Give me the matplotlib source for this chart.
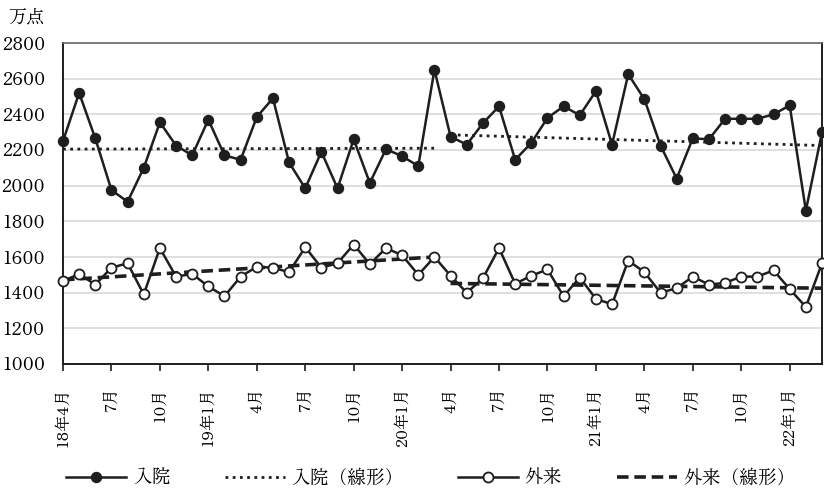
import numpy as np
import matplotlib
matplotlib.use("Agg")
import matplotlib.pyplot as plt
from matplotlib.lines import Line2D

plt.rcParams['font.family'] = ['Zen Old Mincho', 'Noto Sans CJK JP', 'DejaVu Sans']

# monthly points, 2018/4 - 2022/3 (万点)
inpatient = [2250, 2520, 2265, 1975, 1910, 2100, 2355, 2225, 2170, 2370, 2170, 2145,
             2385, 2490, 2130, 1985, 2190, 1985, 2260, 2015, 2205, 2165, 2110, 2650,
             2275, 2230, 2350, 2445, 2145, 2240, 2380, 2445, 2395, 2530, 2230, 2625,
             2485, 2225, 2040, 2265, 2260, 2375, 2375, 2375, 2400, 2450, 1860, 2300]
outpatient = [1465, 1505, 1445, 1540, 1565, 1390, 1650, 1490, 1505, 1435, 1380, 1490,
              1545, 1540, 1515, 1655, 1540, 1565, 1670, 1560, 1650, 1610, 1500, 1600,
              1495, 1400, 1480, 1650, 1450, 1495, 1530, 1380, 1485, 1365, 1335, 1580,
              1515, 1400, 1425, 1490, 1445, 1455, 1490, 1490, 1525, 1420, 1320, 1565]
# linear trend (start, end) for FY2018-19 and FY2020-21
inpatient_trend = [(2205, 2210), (2285, 2225)]
outpatient_trend = [(1472, 1600), (1452, 1425)]
tick_labels = ['18年4月', '7月', '10月', '19年1月', '4月', '7月', '10月', '20年1月',
               '4月', '7月', '10月', '21年1月', '4月', '7月', '10月', '22年1月']
split = 24

x = np.arange(len(inpatient))
ink = '#1e1e1e'
dots = (0, (1, 1.6))
dashes = (0, (3.2, 1.6))

fig = plt.figure(figsize=(8.24, 4.96), dpi=100)
ax = fig.add_axes([63 / 824, 1 - 364 / 496, (822 - 63) / 824, (364 - 43) / 496])

segments = [x[:split], x[split:]]
for seg, t_in, t_out in zip(segments, inpatient_trend, outpatient_trend):
    ends = [seg[0], seg[-1]]
    ax.plot(ends, t_in, color=ink, lw=2.0, ls=dots, zorder=2)
    ax.plot(ends, t_out, color=ink, lw=2.6, ls=dashes, zorder=2)

ax.plot(x, inpatient, color=ink, lw=1.8, marker='o', ms=7.2, mfc=ink, mec=ink,
        clip_on=False, zorder=3)
ax.plot(x, outpatient, color=ink, lw=1.8, marker='o', ms=7.2, mfc='white', mec=ink,
        mew=1.3, clip_on=False, zorder=3)

ax.set_xlim(0, len(x) - 1)
ax.set_ylim(1000, 2800)
ax.set_yticks(np.arange(1000, 2801, 200))
ax.yaxis.grid(True, color='#d9d9d9', lw=1.2)
ax.set_axisbelow(True)
ax.tick_params(axis='y', length=0, pad=13, labelsize=13)
ax.set_xticks(x[::3])
ax.set_xticklabels(tick_labels, rotation=90, fontsize=11.5)
ax.tick_params(axis='x', length=5, width=1.2, color=ink, pad=12)

for side in ('left', 'bottom', 'right'):
    ax.spines[side].set_color(ink)
    ax.spines[side].set_linewidth(1.4)
ax.spines['top'].set_color('#666666')
ax.spines['top'].set_linewidth(1.2)

fig.text(8 / 824, 1 - 17 / 496, '万点', fontsize=13, va='center', ha='left')

handles = [
    Line2D([], [], color=ink, lw=1.8, marker='o', ms=7.2, mfc=ink, mec=ink),
    Line2D([], [], color=ink, lw=2.0, ls=dots),
    Line2D([], [], color=ink, lw=1.8, marker='o', ms=7.2, mfc='white', mec=ink, mew=1.3),
    Line2D([], [], color=ink, lw=2.6, ls=dashes),
]
labels = ['入院', '入院（線形）', '外来', '外来（線形）']
fig.legend(handles, labels, loc='center', bbox_to_anchor=(431 / 824, 1 - 478 / 496),
           ncol=4, frameon=False, fontsize=13.5, handlelength=3.2, handletextpad=0.35,
           columnspacing=2.9, borderaxespad=0, borderpad=0)

fig.savefig('out.png', dpi=100)
